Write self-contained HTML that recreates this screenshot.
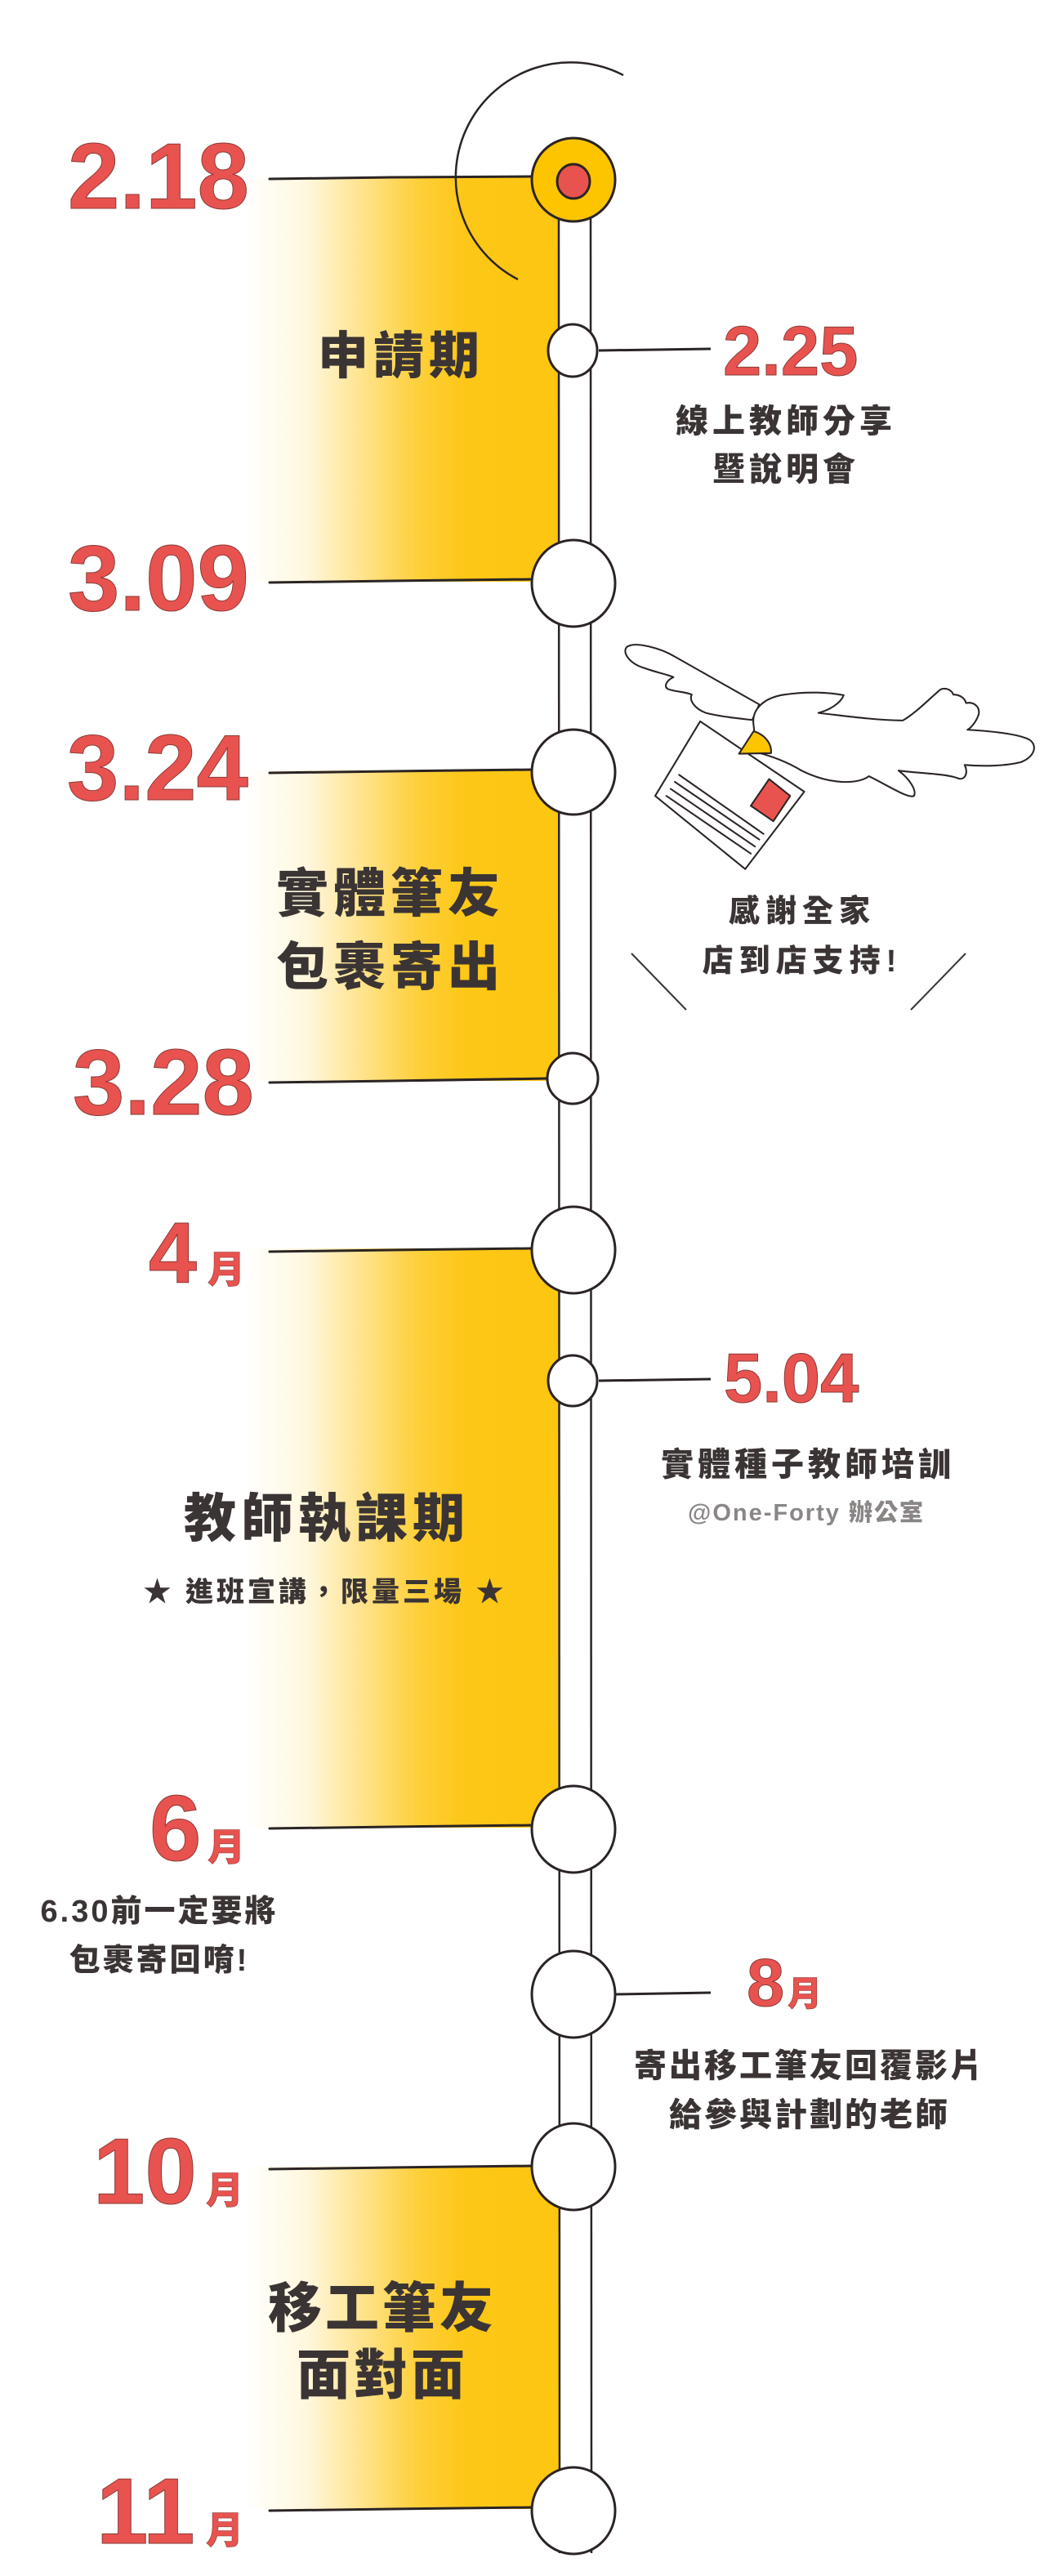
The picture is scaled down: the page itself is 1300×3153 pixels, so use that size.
<!DOCTYPE html>
<html><head><meta charset="utf-8"><style>
html,body{margin:0;padding:0;background:#fff;}
svg{display:block;}
.r{font-family:"Liberation Sans",sans-serif;font-weight:bold;fill:#e8534f;stroke:#8a3a36;stroke-width:1;}
.rm{font-family:"Liberation Sans","Noto Sans CJK TC",sans-serif;font-weight:900;fill:#e8534f;stroke:#8a3a36;stroke-width:0.6;}
.d{font-family:"Liberation Sans","Noto Sans CJK TC",sans-serif;font-weight:900;fill:#3b3434;text-anchor:middle;}
</style></head><body>
<svg width="1300" height="3153" viewBox="0 0 1300 3153" xmlns="http://www.w3.org/2000/svg">
<defs>
<linearGradient id="yg" x1="300" y1="0" x2="684" y2="0" gradientUnits="userSpaceOnUse">
<stop offset="0" stop-color="#fdc718" stop-opacity="0"/>
<stop offset="0.2" stop-color="#fdc718" stop-opacity="0.15"/>
<stop offset="0.55" stop-color="#fdc718" stop-opacity="0.85"/>
<stop offset="0.7" stop-color="#fdc718" stop-opacity="1"/>
<stop offset="1" stop-color="#fdc610" stop-opacity="1"/>
</linearGradient>
</defs>
<!-- yellow bands -->
<rect x="300" y="217" width="384" height="495" fill="url(#yg)"/>
<rect x="300" y="943" width="384" height="380" fill="url(#yg)"/>
<rect x="300" y="1528" width="384" height="709" fill="url(#yg)"/>
<rect x="300" y="2652" width="384" height="419" fill="url(#yg)"/>
<!-- band lines -->
<g stroke="#2b2424" stroke-width="3" fill="none" stroke-linecap="round">
<path d="M330,219 L480,217 L652,216"/>
<path d="M330,713 L480,711 L652,709"/>
<path d="M330,946 L480,944 L652,942"/>
<path d="M330,1325 L480,1323 L672,1320"/>
<path d="M330,1532 L480,1530 L652,1528"/>
<path d="M330,2238 L480,2236 L652,2234"/>
<path d="M330,2655 L480,2653 L652,2651"/>
<path d="M330,3073 L480,3071 L652,3069"/>
</g>
<!-- track -->
<rect x="684" y="260" width="39" height="2865" fill="#fff"/>
<g stroke="#2b2424" stroke-width="2.5" fill="none">
<line x1="684" y1="260" x2="685" y2="3125"/>
<line x1="723" y1="260" x2="724" y2="3125"/>
</g>
<!-- arc -->
<path d="M763,92 A140,140 0 0,0 634,342" stroke="#2b2424" stroke-width="2.5" fill="none"/>
<!-- connectors -->
<g stroke="#2b2424" stroke-width="3">
<line x1="733" y1="429" x2="870" y2="427"/>
<line x1="733" y1="1690" x2="870" y2="1688"/>
<line x1="753" y1="2441" x2="870" y2="2439"/>
</g>
<!-- nodes -->
<g stroke="#2b2424" stroke-width="3" fill="#fff">
<ellipse cx="702" cy="220" rx="51" ry="51" fill="#fdc500"/>
<ellipse cx="702" cy="222" rx="20" ry="21" fill="#e8534f"/>
<ellipse cx="701" cy="429" rx="30" ry="32"/>
<ellipse cx="702" cy="714" rx="51" ry="53"/>
<ellipse cx="702" cy="945" rx="51" ry="52"/>
<ellipse cx="701" cy="1320" rx="31" ry="31"/>
<ellipse cx="702" cy="1530" rx="51" ry="53"/>
<ellipse cx="701" cy="1690" rx="30" ry="31"/>
<ellipse cx="702" cy="2239" rx="51" ry="53"/>
<ellipse cx="702" cy="2441" rx="51" ry="53"/>
<ellipse cx="702" cy="2652" rx="51" ry="53"/>
<ellipse cx="702" cy="3073" rx="51" ry="53"/>
</g>
<!-- red labels -->
<text class="r" x="83" y="255" font-size="114">2.18</text>
<text class="r" x="83" y="747" font-size="114">3.09</text>
<text class="r" x="82" y="979" font-size="114">3.24</text>
<text class="r" x="89" y="1364" font-size="114">3.28</text>
<text class="r" x="182" y="1570" font-size="106">4</text><text class="rm" x="254" y="1570" font-size="46">月</text>
<text class="r" x="183" y="2277" font-size="114">6</text><text class="rm" x="254" y="2277" font-size="46">月</text>
<text class="r" x="114" y="2697" font-size="114">10</text><text class="rm" x="252" y="2697" font-size="46">月</text>
<text class="r" x="118" y="3113" font-size="114">11</text><text class="rm" x="252" y="3113" font-size="46">月</text>
<text class="r" x="885" y="459" font-size="85">2.25</text>
<text class="r" x="886" y="1716" font-size="85">5.04</text>
<text class="r" x="914" y="2455" font-size="83">8</text><text class="rm" x="964" y="2455" font-size="42">月</text>
<!-- dark labels -->
<text class="d" x="491" y="457" font-size="62" letter-spacing="6">申請期</text>
<text class="d" x="478" y="1116" font-size="64" letter-spacing="6">實體筆友</text>
<text class="d" x="478" y="1206" font-size="64" letter-spacing="6">包裹寄出</text>
<text class="d" x="400" y="1881" font-size="64" letter-spacing="6">教師執課期</text>
<text class="d" x="398" y="1960" font-size="34" letter-spacing="4">★ 進班宣講，限量三場 ★</text>
<text class="d" x="468" y="2848" font-size="66" letter-spacing="4">移工筆友</text>
<text class="d" x="468" y="2930" font-size="66" letter-spacing="4">面對面</text>
<text class="d" x="962" y="529" font-size="40" letter-spacing="5">線上教師分享</text>
<text class="d" x="962" y="588" font-size="40" letter-spacing="5">暨說明會</text>
<text class="d" x="989" y="1806" font-size="40" letter-spacing="5">實體種子教師培訓</text>
<text class="d" x="987" y="1861" font-size="29" letter-spacing="2" style="fill:#8a8686">@One-Forty 辦公室</text>
<text class="d" x="195" y="2352" font-size="38" letter-spacing="3">6.30前一定要將</text>
<text class="d" x="195" y="2412" font-size="38" letter-spacing="3">包裹寄回唷!</text>
<text class="d" x="991" y="2542" font-size="40" letter-spacing="3">寄出移工筆友回覆影片</text>
<text class="d" x="991" y="2602" font-size="40" letter-spacing="3">給參與計劃的老師</text>
<text class="d" x="982" y="1128" font-size="38" letter-spacing="7">感謝全家</text>
<text class="d" x="982" y="1189" font-size="38" letter-spacing="7">店到店支持!</text>
<!-- slashes -->
<g stroke="#3b3434" stroke-width="2">
<line x1="773" y1="1167" x2="840" y2="1236"/>
<line x1="1182" y1="1167" x2="1115" y2="1236"/>
</g>
<!-- bird -->
<g transform="translate(740,740) scale(0.3444)" stroke="#2b2424" stroke-width="6" fill="#fff" stroke-linejoin="round" stroke-linecap="round">
<path d="M550,355 C470,310 330,230 250,185 C200,155 110,130 80,150 C60,170 90,210 140,225 C180,240 230,250 245,258 C220,270 210,290 225,300 C250,310 290,310 310,320 C300,340 320,370 360,385 C420,400 480,405 525,410 Z"/>
<path d="M530,430 C520,370 570,330 640,320 C720,308 800,312 850,322 C840,350 800,375 760,385 C850,395 950,410 1060,412 C1100,390 1150,340 1190,305 C1200,295 1230,295 1240,320 C1260,320 1280,330 1285,350 C1310,345 1335,360 1330,390 C1320,420 1300,440 1290,445 C1380,450 1470,460 1510,480 C1540,500 1530,540 1480,560 C1420,575 1340,575 1280,570 C1295,600 1280,630 1250,615 C1200,600 1120,600 1045,590 C1085,620 1110,660 1100,680 C1080,690 1020,650 940,610 C900,640 800,640 700,590 C650,560 600,540 540,525 Z"/>
<path d="M340,415 L710,665 L500,940 L180,680 Z"/>
<path d="M530,450 C565,460 595,490 592,528 L478,530 Z" fill="#fdc500"/>
<path d="M585,620 L660,680 L600,770 L520,715 Z" fill="#e8534f"/>
<g fill="none">
<line x1="265" y1="605" x2="565" y2="815"/>
<line x1="250" y1="630" x2="550" y2="835"/>
<line x1="235" y1="655" x2="535" y2="860"/>
<line x1="220" y1="680" x2="520" y2="885"/>
</g>
</g>
</svg>
</body></html>
